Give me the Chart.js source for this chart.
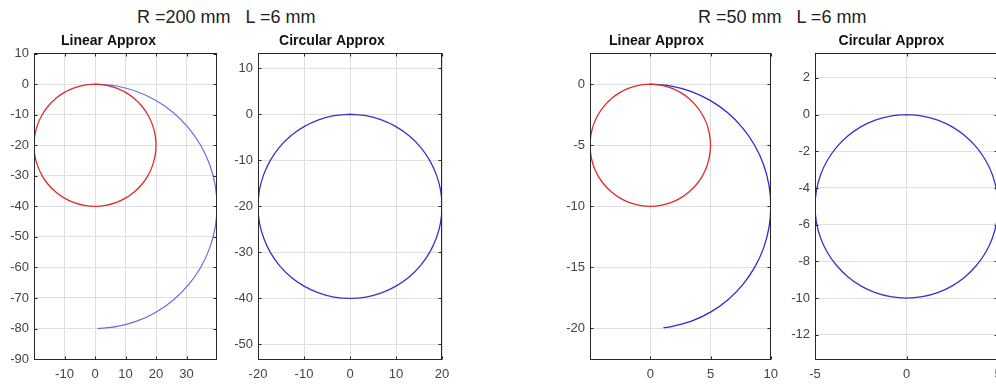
<!DOCTYPE html>
<html>
<head>
<meta charset="utf-8">
<script src="https://cdn.jsdelivr.net/npm/chart.js@4/dist/chart.umd.min.js"></script>
<style>
  html, body { margin: 0; padding: 0; background: #fff; }
  body { position: relative; width: 996px; height: 386px; overflow: hidden; }
  canvas { position: absolute; top: 30px; }
  .sup { position: absolute; top: 7.5px; font: 18px "Liberation Sans", Arial, sans-serif;
         line-height: 18px; color: #222; white-space: pre; }
</style>
</head>
<body>
<div class="sup" style="left:137px">R =200 mm   L =6 mm</div>
<div class="sup" style="left:698px">R =50 mm   L =6 mm</div>
<canvas id="p1" width="222" height="356" style="left:0px"></canvas>
<canvas id="p2" width="240" height="356" style="left:222px"></canvas>
<canvas id="p3" width="245" height="356" style="left:540px"></canvas>
<canvas id="p4" width="231" height="356" style="left:785px"></canvas>
<script>
// ---- R = 200 mm ----
// guide circle (red) in the linear panel
const guideX200 = [0, 3.47, 6.84, 10, 12.86, 15.32, 17.32, 18.79, 19.7, 20, 19.7, 18.79, 17.32, 15.32, 12.86, 10, 6.84, 3.47, 0,
                   -3.47, -6.84, -10, -12.86, -15.32, -17.32, -18.79, -19.7, -20, -19.7, -18.79, -17.32, -15.32, -12.86, -10, -6.84, -3.47, 0];
const guideY200 = [0, -0.3, -1.21, -2.68, -4.68, -7.14, -10, -13.16, -16.53, -20, -23.47, -26.84, -30, -32.86, -35.32, -37.32, -38.79, -39.7, -40,
                   -39.7, -38.79, -37.32, -35.32, -32.86, -30, -26.84, -23.47, -20, -16.53, -13.16, -10, -7.14, -4.68, -2.68, -1.21, -0.3, 0];
// linear approximation path (blue)
const linearX200 = [0, 6.95, 13.68, 20, 25.71, 30.64, 34.64, 37.59, 39.39, 40, 39.39, 37.59, 34.64, 30.64, 25.71, 20, 13.68, 6.95, 0.8];
const linearY200 = [0, -0.61, -2.41, -5.36, -9.36, -14.29, -20, -26.32, -33.05, -40, -46.95, -53.68, -60, -65.71, -70.64, -74.64, -77.59, -79.39, -80];
// circular approximation path (blue)
const circularX200 = [0, 3.47, 6.84, 10, 12.86, 15.32, 17.32, 18.79, 19.7, 20, 19.7, 18.79, 17.32, 15.32, 12.86, 10, 6.84, 3.47, 0,
                      -3.47, -6.84, -10, -12.86, -15.32, -17.32, -18.79, -19.7, -20, -19.7, -18.79, -17.32, -15.32, -12.86, -10, -6.84, -3.47, 0];
const circularY200 = [0, -0.3, -1.21, -2.68, -4.68, -7.14, -10, -13.16, -16.53, -20, -23.47, -26.84, -30, -32.86, -35.32, -37.32, -38.79, -39.7, -40,
                      -39.7, -38.79, -37.32, -35.32, -32.86, -30, -26.84, -23.47, -20, -16.53, -13.16, -10, -7.14, -4.68, -2.68, -1.21, -0.3, 0];

// ---- R = 50 mm ----
const guideX50 = [0, 0.87, 1.71, 2.5, 3.21, 3.83, 4.33, 4.7, 4.92, 5, 4.92, 4.7, 4.33, 3.83, 3.21, 2.5, 1.71, 0.87, 0,
                  -0.87, -1.71, -2.5, -3.21, -3.83, -4.33, -4.7, -4.92, -5, -4.92, -4.7, -4.33, -3.83, -3.21, -2.5, -1.71, -0.87, 0];
const guideY50 = [0, -0.08, -0.3, -0.67, -1.17, -1.79, -2.5, -3.29, -4.13, -5, -5.87, -6.71, -7.5, -8.21, -8.83, -9.33, -9.7, -9.92, -10,
                  -9.92, -9.7, -9.33, -8.83, -8.21, -7.5, -6.71, -5.87, -5, -4.13, -3.29, -2.5, -1.79, -1.17, -0.67, -0.3, -0.08, 0];
const linearX50 = [0, 1.74, 3.42, 5, 6.43, 7.66, 8.66, 9.4, 9.85, 10, 9.85, 9.4, 8.66, 7.66, 6.43, 5, 3.42, 1.74, 1.1];
const linearY50 = [0, -0.15, -0.6, -1.34, -2.34, -3.57, -5, -6.58, -8.26, -10, -11.74, -13.42, -15, -16.43, -17.66, -18.66, -19.4, -19.85, -19.94];
const circularX50 = [0, 0.87, 1.71, 2.5, 3.21, 3.83, 4.33, 4.7, 4.92, 5, 4.92, 4.7, 4.33, 3.83, 3.21, 2.5, 1.71, 0.87, 0,
                     -0.87, -1.71, -2.5, -3.21, -3.83, -4.33, -4.7, -4.92, -5, -4.92, -4.7, -4.33, -3.83, -3.21, -2.5, -1.71, -0.87, 0];
const circularY50 = [0, -0.08, -0.3, -0.67, -1.17, -1.79, -2.5, -3.29, -4.13, -5, -5.87, -6.71, -7.5, -8.21, -8.83, -9.33, -9.7, -9.92, -10,
                     -9.92, -9.7, -9.33, -8.83, -8.21, -7.5, -6.71, -5.87, -5, -4.13, -3.29, -2.5, -1.79, -1.17, -0.67, -0.3, -0.08, 0];

// ---- axis limits and tick values ----
const xLim1 = [-20, 40],   yLim1 = [-90.3, 10.3];
const xLim2 = [-20, 20],   yLim2 = [-53.37, 13.37];
const xLim3 = [-5, 10],    yLim3 = [-22.58, 2.58];
const xLim4 = [-5, 5],     yLim4 = [-13.37, 3.37];
const xTicks1 = [-10, 0, 10, 20, 30];
const yTicks1 = [10, 0, -10, -20, -30, -40, -50, -60, -70, -80, -90];
const xTicks2 = [-20, -10, 0, 10, 20];
const yTicks2 = [10, 0, -10, -20, -30, -40, -50];
const xTicks3 = [0, 5, 10];
const yTicks3 = [0, -5, -10, -15, -20];
const xTicks4 = [-5, 0, 5];
const yTicks4 = [2, 0, -2, -4, -6, -8, -10, -12];

const titles = ['Linear Approx', 'Circular Approx'];

Chart.defaults.font.family = '"Liberation Sans", Arial, sans-serif';
Chart.defaults.animation = false;

const pts = (xs, ys) => xs.map((x, i) => ({x, y: ys[i]}));

// boxed axes with inward tick marks on all four sides
const boxPlugin = {
  id: 'boxAxes',
  afterDraw(chart) {
    const {ctx, chartArea: a, scales} = chart;
    const L = Math.round(a.left) + 0.5, R = Math.round(a.right) - 0.5;
    const T = Math.round(a.top) + 0.5, B = Math.round(a.bottom) - 0.5;
    const tl = 3;
    ctx.save();
    ctx.strokeStyle = '#262626';
    ctx.lineWidth = 1;
    ctx.beginPath();
    scales.x.ticks.forEach(t => {
      const px = Math.round(scales.x.getPixelForValue(t.value)) + 0.5;
      ctx.moveTo(px, B); ctx.lineTo(px, B - tl);
      ctx.moveTo(px, T); ctx.lineTo(px, T + tl);
    });
    scales.y.ticks.forEach(t => {
      const py = Math.round(scales.y.getPixelForValue(t.value)) + 0.5;
      ctx.moveTo(L, py); ctx.lineTo(L + tl, py);
      ctx.moveTo(R, py); ctx.lineTo(R - tl, py);
    });
    ctx.stroke();
    ctx.strokeRect(L, T, R - L, B - T);
    ctx.restore();
  }
};

function panel(id, cfg) {
  const axis = (lim, ticks) => ({
    type: 'linear',
    min: lim[0], max: lim[1],
    afterBuildTicks: s => { s.ticks = ticks.map(v => ({value: v})); },
    grid: { color: '#dfdfdf', lineWidth: 1, drawTicks: false },
    border: { display: false },
    ticks: { color: '#444', font: { size: 13 }, maxRotation: 0, autoSkip: false }
  });
  const xAxis = axis(cfg.xLim, cfg.xTicks);
  xAxis.ticks.padding = 7;
  xAxis.afterFit = s => { s.height = 26; };
  const yAxis = axis(cfg.yLim, cfg.yTicks);
  yAxis.ticks.padding = 5;
  yAxis.afterFit = s => { s.width = cfg.yWidth; };

  return new Chart(document.getElementById(id), {
    type: 'line',
    data: {
      datasets: cfg.series.map(s => ({
        data: pts(s.x, s.y),
        borderColor: s.color,
        borderWidth: s.width || 1.3,
        tension: 0.34,
        pointRadius: 0,
        fill: false
      }))
    },
    options: {
      responsive: false,
      devicePixelRatio: 1,
      layout: { padding: { left: 0, top: 0, bottom: 0, right: cfg.padRight } },
      plugins: {
        legend: { display: false },
        tooltip: { enabled: false },
        title: {
          display: true, text: cfg.title, color: '#111',
          font: { size: 14, weight: 'bold' },
          padding: { top: 2.5, bottom: 3.4 }
        }
      },
      scales: { x: xAxis, y: yAxis }
    },
    plugins: [boxPlugin]
  });
}

panel('p1', {
  title: titles[0], xLim: xLim1, yLim: yLim1, xTicks: xTicks1, yTicks: yTicks1,
  yWidth: 34, padRight: 5,
  series: [
    {x: guideX200, y: guideY200, color: '#e02a2a'},
    {x: linearX200, y: linearY200, color: '#6b6be6', width: 1.2}
  ]
});
panel('p2', {
  title: titles[1], xLim: xLim2, yLim: yLim2, xTicks: xTicks2, yTicks: yTicks2,
  yWidth: 36, padRight: 20,
  series: [ {x: circularX200, y: circularY200, color: '#3535c6'} ]
});
panel('p3', {
  title: titles[0], xLim: xLim3, yLim: yLim3, xTicks: xTicks3, yTicks: yTicks3,
  yWidth: 50, padRight: 12,
  series: [
    {x: guideX50, y: guideY50, color: '#e02a2a'},
    {x: linearX50, y: linearY50, color: '#2a2ad6'}
  ]
});
panel('p4', {
  title: titles[1], xLim: xLim4, yLim: yLim4, xTicks: xTicks4, yTicks: yTicks4,
  yWidth: 30, padRight: 18,
  series: [ {x: circularX50, y: circularY50, color: '#3535c6'} ]
});
</script>
</body>
</html>
